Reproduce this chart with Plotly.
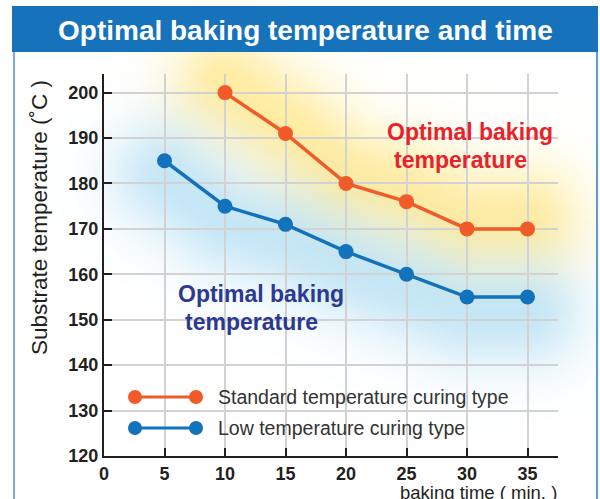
import numpy as np
import plotly.graph_objects as go

# ---- data ----
std_time = [10, 15, 20, 25, 30, 35]
std_temp = [200, 191, 180, 176, 170, 170]
low_time = [5, 10, 15, 20, 25, 30, 35]
low_temp = [185, 175, 171, 165, 160, 155, 155]
x_ticks = [0, 5, 10, 15, 20, 25, 30, 35]
y_ticks = [120, 130, 140, 150, 160, 170, 180, 190, 200]

ORANGE = "#F15A29"
BLUE = "#1272BC"
W, H = 600, 499

# plot area in pixels
PX0, PX1 = 104, 558
PY_TOP, PY_BOT = 74, 456
XR = [0, 37.52]
YR = [120, 204.1]


def to_px(x, y):
    px = PX0 + (np.asarray(x, float) - XR[0]) / (XR[1] - XR[0]) * (PX1 - PX0)
    py = PY_BOT - (np.asarray(y, float) - YR[0]) / (YR[1] - YR[0]) * (PY_BOT - PY_TOP)
    return px, py


def dist_to_polyline(gx, gy, px, py):
    d = np.full(gx.shape, np.inf)
    for i in range(len(px) - 1):
        ax, ay, bx, by = px[i], py[i], px[i + 1], py[i + 1]
        vx, vy = bx - ax, by - ay
        t = ((gx - ax) * vx + (gy - ay) * vy) / (vx * vx + vy * vy)
        t = np.clip(t, 0, 1)
        cx, cy = ax + t * vx, ay + t * vy
        d = np.minimum(d, np.hypot(gx - cx, gy - cy))
    return d


gxs = np.arange(0, W + 1, 5)
gys = np.arange(0, H + 1, 5)
GX, GY = np.meshgrid(gxs, gys)

spx, spy = to_px(std_time, std_temp)
lpx, lpy = to_px(low_time, low_temp)

# yellow glow around the standard line (shifted slightly up)
dy_ = dist_to_polyline(GX, GY + 10, spx, spy)
zy = np.exp(-(dy_ / 55.0) ** 2)
# blue glow around the low line (shifted slightly down)
db_ = dist_to_polyline(GX, GY - 15, lpx, lpy)
zb = np.exp(-(db_ / 55.0) ** 2)

fig = go.Figure()

fig.add_trace(go.Heatmap(
    x=gxs, y=gys, z=zy, xaxis="x", yaxis="y", zmin=0, zmax=1,
    colorscale=[[0, "rgba(255,228,110,0)"], [1, "rgba(255,224,100,0.6)"]],
    showscale=False, zsmooth="best", hoverinfo="skip"))
fig.add_trace(go.Heatmap(
    x=gxs, y=gys, z=zb, xaxis="x", yaxis="y", zmin=0, zmax=1,
    colorscale=[[0, "rgba(150,210,240,0)"], [1, "rgba(150,210,240,0.55)"]],
    showscale=False, zsmooth="best", hoverinfo="skip"))

fig.add_trace(go.Scatter(
    x=std_time, y=std_temp, xaxis="x2", yaxis="y2", mode="lines+markers",
    line=dict(color=ORANGE, width=3.5), marker=dict(color=ORANGE, size=15),
    name="Standard temperature curing type", showlegend=False, cliponaxis=False))
fig.add_trace(go.Scatter(
    x=low_time, y=low_temp, xaxis="x2", yaxis="y2", mode="lines+markers",
    line=dict(color=BLUE, width=3.5), marker=dict(color=BLUE, size=15),
    name="Low temperature curing type", showlegend=False, cliponaxis=False))

tickfont = dict(family="Liberation Sans", size=18, color="#231F20", weight="bold")

fig.update_layout(
    width=W, height=H, autosize=False,
    margin=dict(l=0, r=0, t=0, b=0, pad=0),
    paper_bgcolor="white", plot_bgcolor="rgba(0,0,0,0)",
    showlegend=False,
    xaxis=dict(domain=[0, 1], range=[0, W], visible=False, fixedrange=True,
               automargin=False),
    yaxis=dict(domain=[0, 1], range=[H, 0], visible=False, fixedrange=True,
               automargin=False),
    xaxis2=dict(domain=[PX0 / W, PX1 / W], range=XR, anchor="y2", automargin=False,
                tickvals=x_ticks, ticktext=[str(v) for v in x_ticks],
                showgrid=True, gridcolor="#D2D2D2", gridwidth=2,
                showline=True, linecolor="#231F20", linewidth=2,
                ticks="inside", ticklen=8, tickwidth=2, tickcolor="#231F20",
                tickfont=tickfont, zeroline=False, ticklabelstandoff=0),
    yaxis2=dict(domain=[1 - PY_BOT / H, 1 - PY_TOP / H], range=YR, anchor="x2",
                automargin=False,
                tickvals=y_ticks, ticktext=[str(v) for v in y_ticks],
                showgrid=True, gridcolor="#D2D2D2", gridwidth=2,
                showline=True, linecolor="#231F20", linewidth=2,
                ticks="inside", ticklen=8, tickwidth=2, tickcolor="#231F20",
                tickfont=tickfont, zeroline=False, ticklabelstandoff=0),
)

shapes = [
    # title band
    dict(type="rect", xref="x", yref="y", x0=12, x1=598, y0=6, y1=52,
         fillcolor="#1673BB", line=dict(width=0), layer="above"),
    # frame borders
    dict(type="line", xref="x", yref="y", x0=14, x1=14, y0=52, y1=H,
         line=dict(color="#79AEDC", width=2), layer="above"),
    dict(type="line", xref="x", yref="y", x0=597, x1=597, y0=52, y1=H,
         line=dict(color="#5B9BD5", width=2), layer="above"),
]

# legend glyphs
leg_rows = [(397, ORANGE, "Standard temperature curing type"),
            (428, BLUE, "Low temperature curing type")]
annotations = []
for yy, col, txt in leg_rows:
    shapes.append(dict(type="line", xref="x", yref="y", x0=135, x1=196, y0=yy, y1=yy,
                       line=dict(color=col, width=3), layer="above"))
    for cx in (135, 196):
        shapes.append(dict(type="circle", xref="x", yref="y", x0=cx - 7, x1=cx + 7,
                           y0=yy - 7, y1=yy + 7, fillcolor=col, line=dict(width=0),
                           layer="above"))
    annotations.append(dict(xref="x", yref="y", x=216, y=yy, text=txt, showarrow=False,
                            xanchor="left", yanchor="middle",
                            font=dict(family="Liberation Sans", size=19.5, color="#333333")))

annotations += [
    dict(xref="x", yref="y", x=305, y=30, text="Optimal baking temperature and time",
         showarrow=False, xanchor="center", yanchor="middle",
         font=dict(family="Liberation Sans", size=28, color="white", weight="bold")),
    dict(xref="x", yref="y", x=39, y=218, text="Substrate temperature (˚C )",
         showarrow=False, textangle=-90, xanchor="center", yanchor="middle",
         font=dict(family="Liberation Sans", size=22.5, color="#231F20")),
    dict(xref="x", yref="y", x=559, y=492, text="baking time ( min. )",
         showarrow=False, xanchor="right", yanchor="middle",
         font=dict(family="Liberation Sans", size=18.5, color="#231F20")),
    dict(xref="x", yref="y", x=470, y=132, text="Optimal baking",
         showarrow=False, xanchor="center", yanchor="middle",
         font=dict(family="Liberation Sans", size=23, color="#E8212B", weight="bold")),
    dict(xref="x", yref="y", x=460, y=160, text="temperature",
         showarrow=False, xanchor="center", yanchor="middle",
         font=dict(family="Liberation Sans", size=23, color="#E8212B", weight="bold")),
    dict(xref="x", yref="y", x=261, y=294, text="Optimal baking",
         showarrow=False, xanchor="center", yanchor="middle",
         font=dict(family="Liberation Sans", size=23, color="#2B3990", weight="bold")),
    dict(xref="x", yref="y", x=251, y=322, text="temperature",
         showarrow=False, xanchor="center", yanchor="middle",
         font=dict(family="Liberation Sans", size=23, color="#2B3990", weight="bold")),
]

fig.update_layout(shapes=shapes, annotations=annotations)
fig.write_html("out.html", config={"displayModeBar": False},
               post_script="document.body.style.margin='0';"
                           "document.body.style.overflow='hidden';")
